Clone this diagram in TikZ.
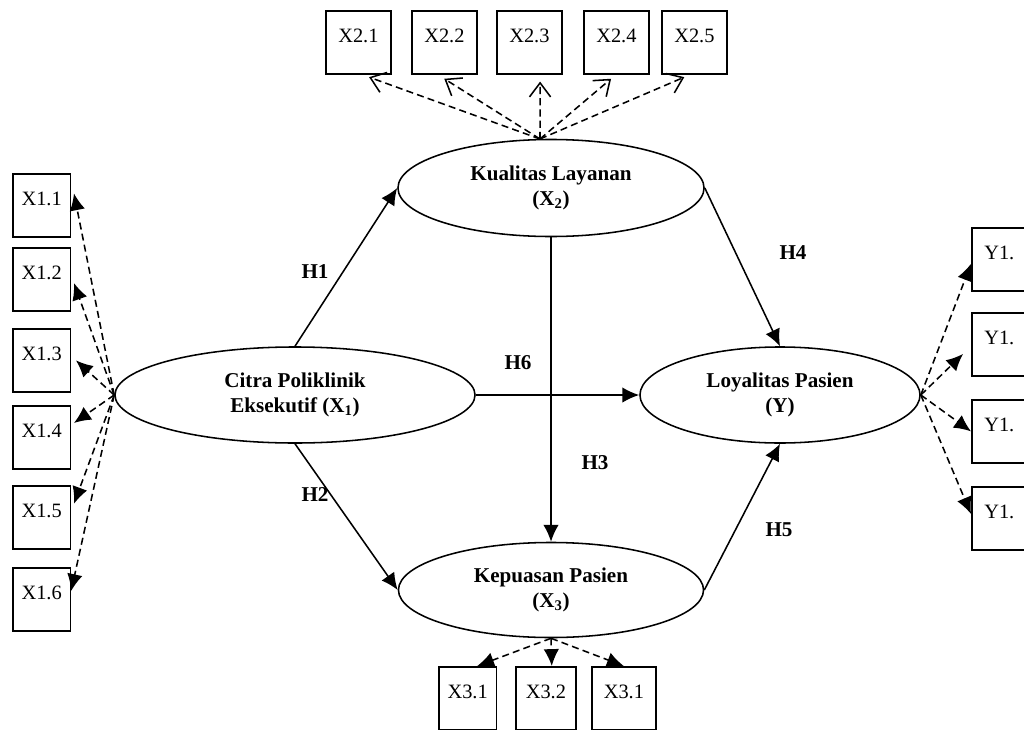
\documentclass[tikz,border=0pt]{standalone}
\usepackage{fontspec}
\setmainfont{Liberation Serif}
\usetikzlibrary{shapes.geometric,arrows.meta}

\begin{document}
\begin{tikzpicture}[x=0.025cm,y=-0.025cm]
% Styles
\tikzstyle{fleche}=[-{Latex[length=12pt,width=11pt]},line width=1.1pt]
\tikzstyle{pointille}=[fleche,dash pattern=on 5pt off 3pt]
\tikzstyle{pointilleV}=[-{Straight Barb[length=10pt,width=15pt]},line width=1.1pt,dash pattern=on 5pt off 3pt]
\tikzstyle{latente}=[ellipse,draw,line width=1.1pt,align=center,inner sep=0pt,font=\fontsize{15}{18}\selectfont\bfseries]
\tikzstyle{indicateur}=[draw,line width=1.1pt,anchor=north west,inner xsep=0.22cm,inner ysep=0pt,text width=1.0cm,text height=0.8cm,text depth=0.78cm,align=left,font=\fontsize{14.5}{17}\selectfont]
\tikzstyle{hypo}=[font=\fontsize{15}{18}\selectfont\bfseries]
% Cadre
\useasboundingbox (0,0) rectangle (1024,729);
% Variables
\node[latente,minimum width=7.65cm,minimum height=2.425cm] (kual) at (551,188) {Kualitas Layanan\\(X\textsubscript{2})};
\node[latente,minimum width=9cm,minimum height=2.4cm] (citra) at (295,395) {Citra Poliklinik\\Eksekutif (X\textsubscript{1})};
\node[latente,minimum width=7cm,minimum height=2.4cm] (loy) at (780,395) {Loyalitas Pasien\\(Y)};
\node[latente,minimum width=7.625cm,minimum height=2.375cm] (kep) at (551,590) {Kepuasan Pasien\\(X\textsubscript{3})};
% Indicateurs
\node[indicateur,minimum width=1.625cm] (x21) at (325,10) {X2.1};
\node[indicateur,minimum width=1.625cm] (x22) at (411,10) {X2.2};
\node[indicateur,minimum width=1.625cm] (x23) at (496,10) {X2.3};
\node[indicateur,minimum width=1.625cm] (x24) at (583,10) {X2.4};
\node[indicateur,minimum width=1.625cm] (x25) at (661,10) {X2.5};
\node[indicateur] (x11) at (12,173) {X1.1};
\node[indicateur] (x12) at (12,247) {X1.2};
\node[indicateur] (x13) at (12,328) {X1.3};
\node[indicateur] (x14) at (12,405) {X1.4};
\node[indicateur] (x15) at (12,485) {X1.5};
\node[indicateur] (x16) at (12,567) {X1.6};
\node[indicateur,minimum width=1.625cm] (y1a) at (971,227) {Y1.};
\node[indicateur,minimum width=1.625cm] (y1b) at (971,312) {Y1.};
\node[indicateur,minimum width=1.625cm] (y1c) at (971,399) {Y1.};
\node[indicateur,minimum width=1.625cm] (y1d) at (971,486) {Y1.};
\node[indicateur] (x31) at (438,666) {X3.1};
\node[indicateur,minimum width=1.5cm] (x32) at (515,666) {X3.2};
\node[indicateur,minimum width=1.6cm] (x33) at (591,666) {X3.1};
% Hypotheses
\node[hypo] (h1) at (315,272) {H1};
\node[hypo] (h2) at (315,495) {H2};
\node[hypo] (h3) at (595,463) {H3};
\node[hypo] (h4) at (793,253) {H4};
\node[hypo] (h5) at (779,530) {H5};
\node[hypo] (h6) at (518,363) {H6};
% Arcs
\draw[fleche] (citra.north) -- (kual.west);
\draw[fleche] (citra.south) -- (kep.west);
\draw[fleche] (kual.south) -- (kep.north);
\draw[fleche] (kual.east) -- (loy.north);
\draw[fleche] (kep.east) -- (loy.south);
\draw[fleche] (citra.east) -- (loy.west);
% Arcs des indicateurs
\coordinate (kualtop) at (540,139);
\draw[pointilleV] (kualtop) -- ([xshift=0.27cm,yshift=-0.06cm]x21.south);
\draw[pointilleV] (kualtop) -- ([yshift=-0.1cm]x22.south);
\draw[pointilleV] (kualtop) -- ([xshift=0.27cm,yshift=-0.17cm]x23.south);
\draw[pointilleV] (kualtop) -- ([xshift=-0.13cm,yshift=-0.1cm]x24.south);
\draw[pointilleV] (kualtop) -- ([xshift=-0.25cm,yshift=-0.06cm]x25.south);
\draw[pointille] (citra.west) -- ([xshift=0.07cm,yshift=0.3cm]x11.east);
\draw[pointille] (citra.west) -- ([xshift=0.07cm,yshift=-0.09cm]x12.east);
\draw[pointille] (citra.west) -- ([xshift=0.12cm]x13.east);
\draw[pointille] (citra.west) -- ([xshift=0.07cm,yshift=0.36cm]x14.east);
\draw[pointille] (citra.west) -- ([xshift=0.07cm,yshift=0.34cm]x15.east);
\draw[pointille] (citra.west) -- ([yshift=0.21cm]x16.east);
\draw[pointille] (loy.east) -- ([yshift=-0.11cm]y1a.west);
\draw[pointille] (loy.east) -- ([xshift=-0.2cm,yshift=-0.24cm]y1b.west);
\draw[pointille] (loy.east) -- (y1c.west);
\draw[pointille] (loy.east) -- ([yshift=0.11cm]y1d.west);
\draw[pointille] (kep.south) -- ([xshift=0.24cm]x31.north);
\draw[pointille] (kep.south) -- ([xshift=0.15cm]x32.north);
\draw[pointille] (kep.south) -- (x33.north);
\end{tikzpicture}
\end{document}
